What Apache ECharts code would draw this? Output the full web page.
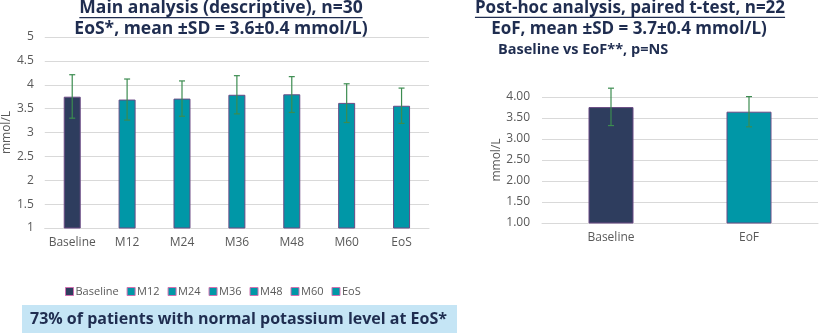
<!DOCTYPE html>
<html><head><meta charset="utf-8">
<script src="https://cdn.jsdelivr.net/npm/echarts@6/dist/echarts.min.js"></script>
<style>html,body{margin:0;padding:0;background:#fff}#c{width:822px;height:336px}</style>
</head><body><div id="c"></div>
<script>
const mainCats = ['Baseline','M12','M24','M36','M48','M60','EoS'];
const mainMeans = [3.75, 3.69, 3.71, 3.79, 3.80, 3.62, 3.56];
const mainLow  = [3.30, 3.26, 3.34, 3.39, 3.42, 3.21, 3.19];
const mainHigh = [4.21, 4.12, 4.08, 4.19, 4.17, 4.02, 3.93];
const postCats = ['Baseline','EoF'];
const postMeans = [3.76, 3.65];
const postLow  = [3.32, 3.29];
const postHigh = [4.21, 4.01];
const mainTicks = ['1','1.5','2','2.5','3','3.5','4','4.5','5'];

const NAVY = '#2E3D5E', TEAL = '#0097A7', TXT = '#1F2D50', GRAY = '#595959';
const FONT = '"Open Sans", "Noto Sans", sans-serif';

const chart = echarts.init(document.getElementById('c'));

function measure(text, font){
  const cv = document.createElement('canvas').getContext('2d');
  cv.font = font; return cv.measureText(text).width;
}
function titleLine(text, cx, cy, size, underline){
  const els = [{type:'text', style:{text, x:cx, y:cy, align:'center', verticalAlign:'middle',
    font:'bold '+size+'px '+FONT, fill:TXT}}];
  if(underline){
    const w = measure(text, 'bold '+size+'px '+FONT);
    els.push({type:'line', shape:{x1:cx-w/2, y1:cy+size*0.55, x2:cx+w/2, y2:cy+size*0.55}, style:{stroke:TXT, lineWidth:1.2}});
  }
  return els;
}

function errSeries(name, xi, yi, low, high, capW){
  return {
    type:'custom', name, xAxisIndex:xi, yAxisIndex:yi, silent:true, z:10, clip:false,
    data: low.map((l,i)=>[i,l,high[i]]),
    renderItem(params, api){
      const x = api.value(0);
      const p1 = api.coord([x, api.value(1)]);
      const p2 = api.coord([x, api.value(2)]);
      const st = {stroke:'#3C8C50', lineWidth:1.2};
      return {type:'group', children:[
        {type:'line', shape:{x1:p1[0],y1:p1[1],x2:p2[0],y2:p2[1]}, style:st},
        {type:'line', shape:{x1:p1[0]-capW,y1:p1[1],x2:p1[0]+capW,y2:p1[1]}, style:st},
        {type:'line', shape:{x1:p2[0]-capW,y1:p2[1],x2:p2[0]+capW,y2:p2[1]}, style:st}
      ]};
    }
  };
}

const mainSeries = mainCats.map((c,k)=>({
  type:'bar', name:c, xAxisIndex:0, yAxisIndex:0, barWidth:17, barGap:'-100%',
  data: mainMeans.map((v,i)=> i===k ? v : null),
  itemStyle:{color: k===0?NAVY:TEAL, borderColor:'#6B4A85', borderWidth:1}
}));

const axisLbl = {color:GRAY, fontSize:12, fontFamily:FONT};
const splitL = {show:true, lineStyle:{color:'#D9D9D9', width:1}};

const option = {
  animation:false,
  textStyle:{fontFamily:FONT},
  legend:{
    data: mainCats.map(n=>({name:n, itemStyle:{borderColor:'#D070B0', borderWidth:1}})),
    left:60, top:281, itemWidth:8, itemHeight:8, itemGap:8,
    icon:'rect', textStyle:{color:GRAY, fontSize:11, fontFamily:FONT, padding:[0,0,0,-3]}
  },
  grid:[
    {left:44, right:393, top:37, bottom:108},
    {left:542, right:4, top:97, bottom:113}
  ],
  xAxis:[
    {type:'category', gridIndex:0, data:mainCats, axisTick:{show:false},
     axisLine:{lineStyle:{color:'#D9D9D9'}}, axisLabel:Object.assign({margin:9, interval:0},axisLbl)},
    {type:'category', gridIndex:1, data:postCats, axisTick:{show:false},
     axisLine:{lineStyle:{color:'#D9D9D9'}}, axisLabel:Object.assign({margin:9, interval:0},axisLbl)}
  ],
  yAxis:[
    {type:'value', gridIndex:0, min:1, max:5, interval:0.5, name:'mmol/L', nameLocation:'middle',
     nameGap:28, nameTextStyle:{color:GRAY, fontSize:12, fontFamily:FONT},
     axisLine:{show:false}, axisTick:{show:false}, splitLine:splitL,
     axisLabel:Object.assign({margin:11, formatter:(v)=>mainTicks[Math.round((v-1)*2)]}, axisLbl)},
    {type:'value', gridIndex:1, min:1, max:4, interval:0.5, name:'mmol/L', nameLocation:'middle',
     nameGap:38, nameTextStyle:{color:GRAY, fontSize:12, fontFamily:FONT},
     axisLine:{show:false}, axisTick:{show:false}, splitLine:splitL,
     axisLabel:Object.assign({margin:12, formatter:(v)=>v.toFixed(2)}, axisLbl)}
  ],
  series:[
    ...mainSeries,
    errSeries('errMain',0,0,mainLow,mainHigh,3),
    {type:'bar', name:'post', xAxisIndex:1, yAxisIndex:1, barWidth:45,
     data: postMeans.map((v,i)=>({value:v, itemStyle:{color: i===0?NAVY:TEAL}})),
     itemStyle:{borderColor:'#6B4A85', borderWidth:1}},
    errSeries('errPost',1,1,postLow,postHigh,3)
  ],
  graphic:[
    ...titleLine('Main analysis (descriptive), n=30', 221, 8, 17.5, true),
    ...titleLine('EoS*, mean \u00B1SD = 3.6\u00B10.4 mmol/L)', 221, 29, 17.5, false),
    ...titleLine('Post-hoc analysis, paired t-test, n=22', 630, 8, 17, true),
    ...titleLine('EoF, mean \u00B1SD = 3.7\u00B10.4 mmol/L)', 629, 29, 17, false),
    {type:'text', style:{text:'Baseline vs EoF**, p=NS', x:498, y:50, verticalAlign:'middle',
      font:'bold 14.5px '+FONT, fill:TXT}},
    {type:'rect', shape:{x:22, y:305, width:435, height:28}, style:{fill:'#C5E5F5'}},
    {type:'text', style:{text:'73% of patients with normal potassium level at EoS*', x:30, y:319,
      verticalAlign:'middle', font:'bold 16px '+FONT, fill:TXT}}
  ]
};
chart.setOption(option);
</script></body></html>
